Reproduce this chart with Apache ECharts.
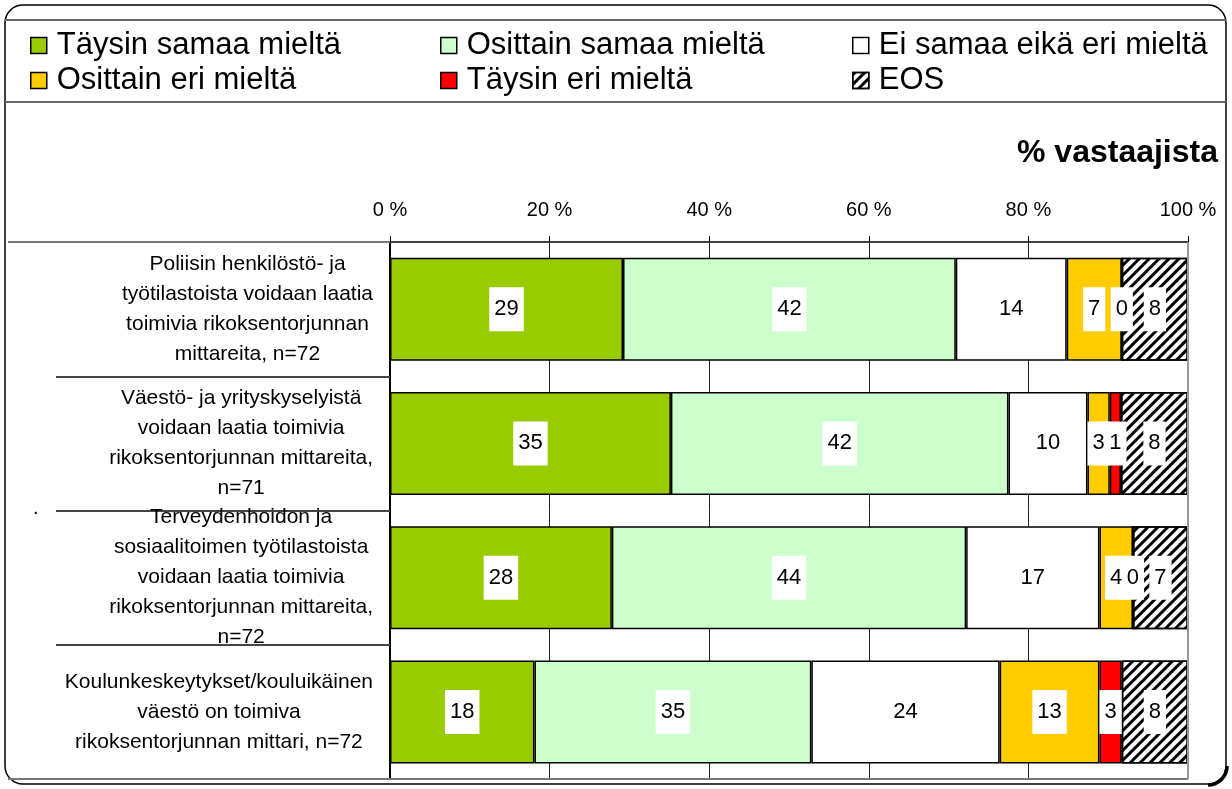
<!DOCTYPE html>
<html>
<head>
<meta charset="utf-8">
<script src="https://cdn.jsdelivr.net/npm/echarts@6/dist/echarts.min.js"></script>
<style>
  html, body { margin: 0; padding: 0; background: #fff; }
  #chart { width: 1232px; height: 789px; }
</style>
</head>
<body>
<div id="chart"></div>
<script>
// kategoriat (ylhäältä alas)
var categories = [
    'Poliisin henkilöstö- ja\ntyötilastoista voidaan laatia\ntoimivia rikoksentorjunnan\nmittareita, n=72',
    'Väestö- ja yrityskyselyistä\nvoidaan laatia toimivia\nrikoksentorjunnan mittareita,\nn=71',
    'Terveydenhoidon ja\nsosiaalitoimen työtilastoista\nvoidaan laatia toimivia\nrikoksentorjunnan mittareita,\nn=72',
    'Koulunkeskeytykset/kouluikäinen\nväestö on toimiva\nrikoksentorjunnan mittari, n=72'
];
var seriesNames = ['Täysin samaa mieltä', 'Osittain samaa mieltä', 'Ei samaa eikä eri mieltä',
    'Osittain eri mieltä', 'Täysin eri mieltä', 'EOS'];
var xTicks = [0, 20, 40, 60, 80, 100];

// % vastaajista
var taysinSamaa = [29.2, 35.2, 27.8, 18.1];
var osittainSamaa = [41.7, 42.3, 44.4, 34.7];
var eiSamaaEikaEri = [13.9, 9.9, 16.7, 23.6];
var osittainEri = [6.9, 2.8, 4.2, 12.5];
var taysinEri = [0, 1.4, 0, 2.8];
var eos = [8.3, 8.4, 6.9, 8.3];

var colors = ['#99cc00', '#ccffcc', '#ffffff', '#ffcc00', '#ff0000', '#ffffff'];
var values = [taysinSamaa, osittainSamaa, eiSamaaEikaEri, osittainEri, taysinEri, eos];

var chart = echarts.init(document.getElementById('chart'));

var series = [];
for (var i = 0; i < values.length; i++) {
    var st = { color: colors[i], borderColor: '#000', borderWidth: 1.5 };
    if (i === 5) {
        st.decal = {
            symbol: 'rect', symbolSize: 1,
            dashArrayX: [1, 0], dashArrayY: [3, 4],
            rotation: -Math.PI / 4, color: '#000'
        };
    }
    series.push({
        name: seriesNames[i],
        type: 'bar',
        stack: 'all',
        barWidth: 103,
        data: values[i],
        itemStyle: st,
        label: {
            show: true,
            position: 'inside',
            formatter: function (p) { return Math.round(p.value); },
            color: '#000',
            fontFamily: 'Liberation Sans, Arial',
            fontSize: 22,
            backgroundColor: '#fff',
            padding: [11, 5]
        }
    });
}

function legendCol(left, names) {
    return {
        orient: 'vertical',
        left: left,
        top: 30,
        padding: 0,
        icon: 'rect',
        itemWidth: 16,
        itemHeight: 16,
        itemGap: 4,
        data: names,
        itemStyle: { borderColor: '#000', borderWidth: 1.5 },
        textStyle: {
            fontFamily: 'Liberation Sans, Arial',
            fontSize: 31,
            lineHeight: 31,
            color: '#000',
            padding: [0, 0, 0, 5]
        }
    };
}

var option = {
    backgroundColor: '#fff',
    animation: false,
    legend: [
        legendCol(30, [seriesNames[0], seriesNames[3]]),
        legendCol(440, [seriesNames[1], seriesNames[4]]),
        legendCol(852, [seriesNames[2], seriesNames[5]])
    ],
    grid: { left: 390, right: 44, top: 242, bottom: 10, containLabel: false },
    xAxis: {
        type: 'value',
        position: 'top',
        min: xTicks[0],
        max: xTicks[xTicks.length - 1],
        interval: 20,
        axisLine: { show: true, lineStyle: { color: '#404040', width: 2 } },
        axisTick: { show: true, length: 6, lineStyle: { color: '#000' } },
        axisLabel: {
            formatter: '{value} %',
            color: '#000',
            fontFamily: 'Liberation Sans, Arial',
            fontSize: 20,
            margin: 22
        },
        splitLine: { show: true, lineStyle: { color: '#222', width: 1 } }
    },
    yAxis: {
        type: 'category',
        inverse: true,
        data: categories,
        axisLine: { show: true, lineStyle: { color: '#000', width: 2 } },
        axisTick: { show: true, length: 334, lineStyle: { color: '#444', width: 2 } },
        axisLabel: {
            align: 'right',
            margin: 17,
            formatter: function (v) {
                return v.split('\n').map(function (s) { return '{c|' + s + '}'; }).join('\n');
            },
            rich: {
                c: {
                    align: 'center',
                    color: '#000',
                    fontFamily: 'Liberation Sans, Arial',
                    fontSize: 21,
                    lineHeight: 30
                }
            }
        }
    },
    graphic: [
        { type: 'rect', shape: { x: 5, y: 5, width: 1221, height: 779, r: 18 },
          style: { fill: null, stroke: '#000', lineWidth: 1.5 }, z: 10 },
        // varjo oikeassa alakulmassa
        { type: 'arc', shape: { cx: 1208, cy: 766, r: 19, startAngle: 0, endAngle: Math.PI / 2 },
          style: { fill: null, stroke: '#000', lineWidth: 3.5 }, z: 10 },
        { type: 'line', shape: { x1: 5, y1: 20, x2: 1226, y2: 20 }, style: { stroke: '#666', lineWidth: 2 }, z: 10 },
        { type: 'line', shape: { x1: 5, y1: 102, x2: 1226, y2: 102 }, style: { stroke: '#666', lineWidth: 2 }, z: 10 },
        { type: 'line', shape: { x1: 8, y1: 242, x2: 390, y2: 242 }, style: { stroke: '#777', lineWidth: 2 }, z: 10 },
        { type: 'line', shape: { x1: 8, y1: 779, x2: 1188, y2: 779 }, style: { stroke: '#777', lineWidth: 2 }, z: 10 },
        { type: 'line', shape: { x1: 1188, y1: 242, x2: 1188, y2: 779 }, style: { stroke: '#999', lineWidth: 2 }, z: 10 },
        { type: 'text', right: 14, top: 137,
          style: { text: '% vastaajista', font: 'bold 32px "Liberation Sans", Arial', fill: '#000' } },
        { type: 'text', left: 33, top: 498, style: { text: '.', font: '20px "Liberation Sans"', fill: '#000' } }
    ],
    series: series
};

chart.setOption(option);
</script>
</body>
</html>
